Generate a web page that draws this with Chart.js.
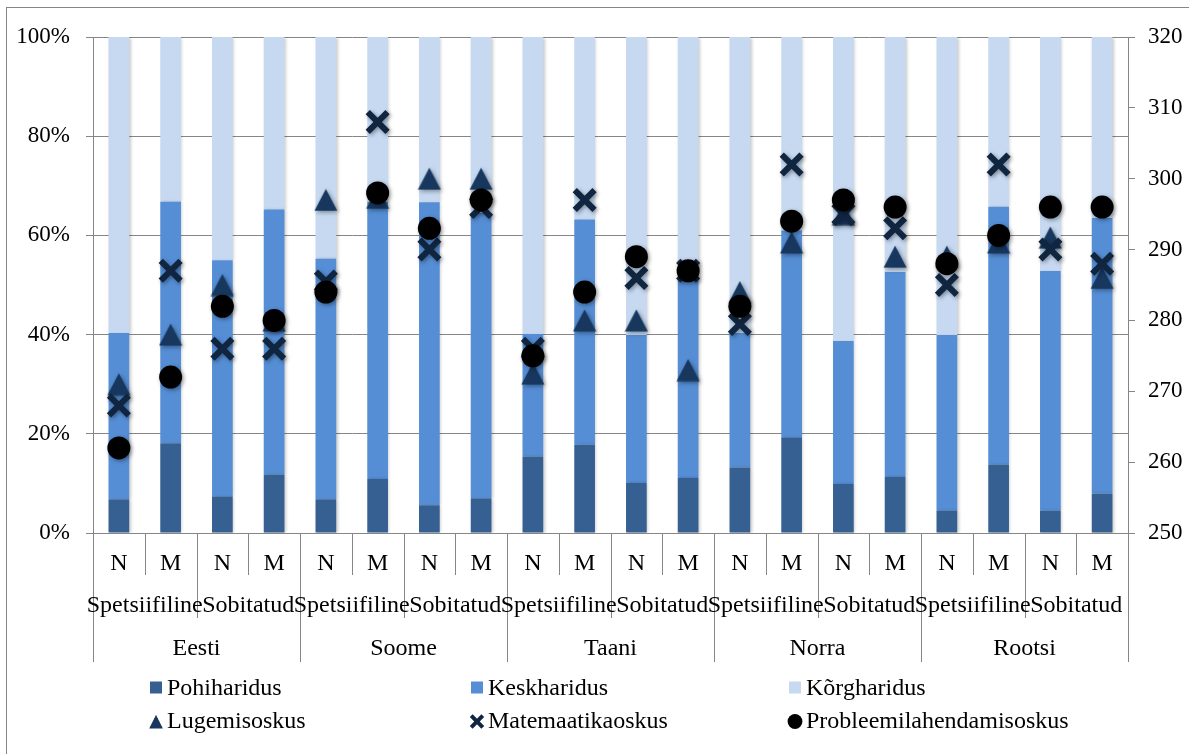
<!DOCTYPE html>
<html>
<head>
<meta charset="utf-8">
<script src="https://cdn.jsdelivr.net/npm/chart.js@4.4.1/dist/chart.umd.min.js"></script>
<style>
  html, body { margin: 0; padding: 0; background: #ffffff; }
  #wrap { width: 1189px; height: 754px; }
</style>
</head>
<body>
<div id="wrap"><canvas id="chart" width="1189" height="754"></canvas></div>
<script>
// Category hierarchy: country > school type > gender
const countries = ['Eesti', 'Soome', 'Taani', 'Norra', 'Rootsi'];
const schoolTypes = ['Spetsiifiline', 'Sobitatud'];
const genders = ['N', 'M'];
const categories = countries.flatMap(() => schoolTypes.flatMap(() => genders));

// Education level shares (%), left axis
const pohiharidus = [6.8, 18.1, 7.4, 11.8, 6.8, 10.9, 5.6, 7.0, 15.4, 17.8, 10.1, 11.1, 13.2, 19.3, 9.9, 11.3, 4.5, 13.8, 4.5, 7.9];
const keskharidus = [33.5, 48.7, 47.6, 53.4, 48.5, 55.9, 61.1, 57.5, 24.7, 45.4, 29.8, 40.9, 27.1, 41.7, 28.8, 41.3, 35.4, 52.0, 48.3, 55.6];
const korgharidus = [59.7, 33.2, 45.0, 34.8, 44.7, 33.2, 33.3, 35.5, 59.9, 36.8, 60.1, 48.0, 59.7, 39.0, 61.3, 47.4, 60.1, 34.2, 47.2, 36.5];

// Skill scores, right axis
const lugemisoskus = [271, 278, 285, 280, 297, 297.3, 300, 300, 272.5, 280, 280, 273, 284, 291, 295, 289, 289, 291, 291.7, 286];
const matemaatikaoskus = [268, 287, 276, 276, 285.5, 308, 290, 296, 276, 297, 286, 287, 279.5, 302, 295, 293, 285, 302, 290, 288];
const probleemilahendamisoskus = [262, 272, 282, 280, 284, 298, 293, 297, 275, 284, 289, 287, 282, 294, 297, 296, 288, 292, 296, 296];

// Axis ticks
const percentTicks = [0, 20, 40, 60, 80, 100];
const scoreMin = 250, scoreMax = 320, scoreStep = 10;

const GRID = '#868686';
const FONT = '"Liberation Serif", "Times New Roman", serif';

// Filled triangle marker as an image so it is centred on its bounding box
function triangleMarker(w, h, color) {
  const c = document.createElement('canvas');
  c.width = w; c.height = h;
  const g = c.getContext('2d');
  g.fillStyle = color;
  g.beginPath();
  g.moveTo(w / 2, 0.5);
  g.lineTo(w - 0.5, h - 0.5);
  g.lineTo(0.5, h - 0.5);
  g.closePath();
  g.fill();
  return c;
}
const triangleImg = triangleMarker(24, 23, '#17375E');

// Soft drop shadow under bars and markers
const shadowPlugin = {
  id: 'softShadow',
  beforeDatasetDraw(chart, args) {
    const ctx = chart.ctx;
    ctx.save();
    if (args.meta.type === 'bar') {
      ctx.shadowColor = 'rgba(0,0,0,0.22)';
      ctx.shadowBlur = 3;
      ctx.shadowOffsetX = 1.5;
      ctx.shadowOffsetY = 0.5;
    } else {
      ctx.shadowColor = 'rgba(0,0,0,0.4)';
      ctx.shadowBlur = 4;
      ctx.shadowOffsetX = 1.5;
      ctx.shadowOffsetY = 1.5;
    }
  },
  afterDatasetDraw(chart) {
    chart.ctx.restore();
  }
};

// Outer frame
const framePlugin = {
  id: 'frame',
  beforeDraw(chart) {
    const ctx = chart.ctx;
    ctx.save();
    ctx.fillStyle = '#ffffff';
    ctx.fillRect(0, 0, chart.width, chart.height);
    ctx.strokeStyle = GRID;
    ctx.lineWidth = 1;
    ctx.strokeRect(6.5, 7.5, chart.width + 20, chart.height + 20);
    ctx.restore();
  }
};

// Three-level category axis: gender, school type, country
const groupAxisPlugin = {
  id: 'groupAxis',
  afterDraw(chart) {
    const { ctx, chartArea: a, scales: { x } } = chart;
    const n = categories.length;
    const px = i => x.getPixelForValue(i);
    const edge = i => (i === 0 ? a.left : i === n ? a.right : (px(i - 1) + px(i)) / 2);
    const perType = genders.length;
    const perCountry = schoolTypes.length * genders.length;

    ctx.save();
    ctx.strokeStyle = GRID;
    ctx.lineWidth = 1;
    for (let i = 0; i <= n; i++) {
      let depth = 42;
      if (i % perCountry === 0) depth = 129;
      else if (i % perType === 0) depth = 85;
      const xx = Math.round(edge(i)) + 0.5;
      ctx.beginPath();
      ctx.moveTo(xx, a.bottom);
      ctx.lineTo(xx, a.bottom + depth);
      ctx.stroke();
    }

    ctx.fillStyle = '#000000';
    ctx.textAlign = 'center';
    ctx.textBaseline = 'alphabetic';
    ctx.font = '24px ' + FONT;
    categories.forEach((label, i) => ctx.fillText(label, px(i), a.bottom + 36.5));

    for (let j = 0; j < n / perType; j++) {
      const cx = (edge(j * perType) + edge((j + 1) * perType)) / 2;
      ctx.fillText(schoolTypes[j % schoolTypes.length], cx, a.bottom + 79);
    }
    countries.forEach((name, k) => {
      const cx = (edge(k * perCountry) + edge((k + 1) * perCountry)) / 2;
      ctx.fillText(name, cx, a.bottom + 122);
    });
    ctx.restore();
  }
};

// Legend in two rows of three columns
const legendPlugin = {
  id: 'gridLegend',
  afterDraw(chart) {
    const ctx = chart.ctx;
    const colMarker = [156, 477, 795];
    const colText = [167, 488, 806];
    const rowBase = [695, 728];
    const rowMid = [687.5, 721.5];
    ctx.save();
    ctx.font = '24px ' + FONT;
    ctx.textAlign = 'left';
    ctx.textBaseline = 'alphabetic';
    chart.data.datasets.forEach((ds, i) => {
      const col = i % 3, row = Math.floor(i / 3);
      const mx = colMarker[col], my = rowMid[row];
      if (ds.type === 'bar' || !ds.type) {
        ctx.fillStyle = ds.backgroundColor;
        ctx.fillRect(mx - 6, my - 6, 12, 12);
      } else if (ds.pointStyle instanceof HTMLCanvasElement) {
        ctx.drawImage(ds.pointStyle, mx - 7, my - 7, 14, 14);
      } else if (ds.pointStyle === 'circle') {
        ctx.fillStyle = ds.pointBackgroundColor;
        ctx.beginPath();
        ctx.arc(mx, my, 7.4, 0, Math.PI * 2);
        ctx.fill();
      } else {
        ctx.strokeStyle = ds.pointBorderColor;
        ctx.lineWidth = 4;
        const d = 5.8;
        ctx.beginPath();
        ctx.moveTo(mx - d, my - d); ctx.lineTo(mx + d, my + d);
        ctx.moveTo(mx + d, my - d); ctx.lineTo(mx - d, my + d);
        ctx.stroke();
      }
      ctx.fillStyle = '#000000';
      ctx.fillText(ds.label, colText[col], rowBase[row]);
    });
    ctx.restore();
  }
};

const markerSet = (label, data, extra) => Object.assign({
  type: 'line',
  label,
  data,
  yAxisID: 'y2',
  showLine: false,
  order: 1
}, extra);

new Chart(document.getElementById('chart'), {
  type: 'bar',
  data: {
    labels: categories,
    datasets: [
      { label: 'Pohiharidus', data: pohiharidus, backgroundColor: '#376092', order: 4 },
      { label: 'Keskharidus', data: keskharidus, backgroundColor: '#558ED5', order: 4 },
      { label: 'Kõrgharidus', data: korgharidus, backgroundColor: '#C6D9F1', order: 4 },
      markerSet('Lugemisoskus', lugemisoskus, {
        order: 3, pointStyle: triangleImg, pointRadius: 12,
        pointBackgroundColor: '#17375E', pointBorderColor: '#17375E', borderColor: '#17375E'
      }),
      markerSet('Matemaatikaoskus', matemaatikaoskus, {
        order: 2, pointStyle: 'crossRot', pointRadius: 14, pointBorderWidth: 6,
        pointBackgroundColor: '#10253F', pointBorderColor: '#10253F', borderColor: '#10253F'
      }),
      markerSet('Probleemilahendamisoskus', probleemilahendamisoskus, {
        order: 1, pointStyle: 'circle', pointRadius: 11.5, pointBorderWidth: 0,
        pointBackgroundColor: '#000000', pointBorderColor: '#000000', borderColor: '#000000'
      })
    ]
  },
  options: {
    responsive: false,
    animation: false,
    devicePixelRatio: 1,
    events: [],
    layout: { padding: { left: 0, right: 0, top: 37, bottom: 0 } },
    datasets: { bar: { barPercentage: 0.4, categoryPercentage: 1.0 } },
    plugins: { legend: { display: false }, tooltip: { enabled: false } },
    scales: {
      x: {
        stacked: true,
        ticks: { display: false },
        grid: { display: false },
        border: { display: true, color: GRID, width: 1 },
        afterFit(scale) { scale.height = 221; }
      },
      y: {
        stacked: true,
        position: 'left',
        min: 0,
        max: 100,
        afterBuildTicks(scale) { scale.ticks = percentTicks.map(v => ({ value: v })); },
        ticks: {
          callback: v => v + '%',
          color: '#000000',
          padding: 16,
          font: { family: FONT, size: 23 }
        },
        grid: { color: GRID, lineWidth: 1, drawTicks: true, tickLength: 7 },
        border: { display: true, color: GRID, width: 1 },
        afterFit(scale) { scale.width = 93; }
      },
      y2: {
        position: 'right',
        min: scoreMin,
        max: scoreMax,
        ticks: {
          stepSize: scoreStep,
          color: '#000000',
          padding: 13,
          font: { family: FONT, size: 23 }
        },
        grid: { drawOnChartArea: false, color: GRID, lineWidth: 1, drawTicks: true, tickLength: 7 },
        border: { display: true, color: GRID, width: 1 },
        afterFit(scale) { scale.width = 1189 - 1128; }
      }
    }
  },
  plugins: [framePlugin, shadowPlugin, groupAxisPlugin, legendPlugin]
});
</script>
</body>
</html>
